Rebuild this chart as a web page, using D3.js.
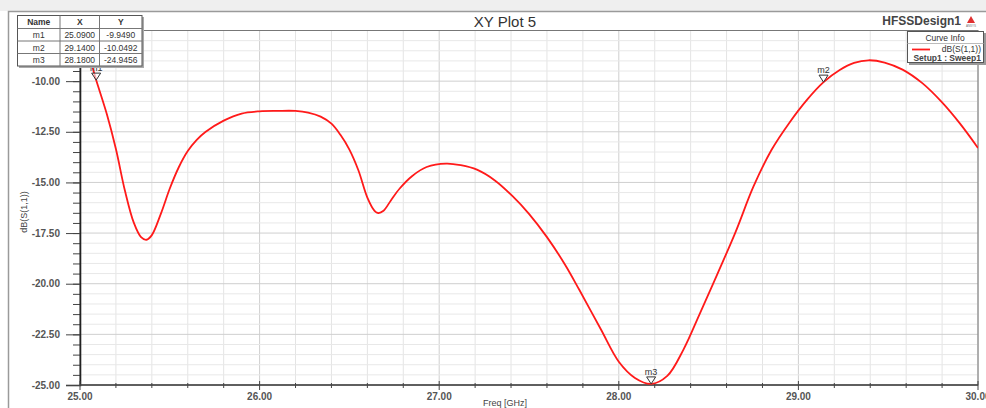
<!DOCTYPE html>
<html>
<head>
<meta charset="utf-8">
<script src="https://cdn.jsdelivr.net/npm/d3@7"></script>
<style>
  body { margin: 0; background: #fff; }
  svg  { display: block; font-family: Arial, "Liberation Sans", sans-serif; }
</style>
</head>
<body>
<svg id="chart" width="986" height="408"></svg>
<script>
// ── Data: dB(S(1,1)) vs frequency ─────────────────────────────────────────────
const FREQ = [25.00, 25.05, 25.09, 25.15, 25.20, 25.25, 25.30, 25.34, 25.37, 25.40,
              25.45, 25.50, 25.55, 25.60, 25.65, 25.70, 25.80, 25.90, 26.00, 26.10,
              26.20, 26.27, 26.34, 26.40, 26.45, 26.50, 26.55, 26.60, 26.64, 26.66,
              26.69, 26.73, 26.78, 26.85, 26.93, 27.04, 27.12, 27.21, 27.31, 27.41,
              27.50, 27.60, 27.70, 27.78, 27.90, 28.00, 28.09, 28.18, 28.27, 28.36,
              28.45, 28.55, 28.65, 28.75, 28.85, 28.95, 29.05, 29.14, 29.23, 29.31,
              29.39, 29.48, 29.58, 29.69, 29.80, 29.90, 30.00];
const S11  = [-7.6, -8.75, -9.949, -11.65, -13.35, -15.40, -17.00, -17.70, -17.83, -17.60,
              -16.55, -15.30, -14.25, -13.45, -12.90, -12.50, -11.95, -11.60, -11.49, -11.47,
              -11.47, -11.55, -11.75, -12.10, -12.65, -13.38, -14.40, -15.75, -16.40, -16.51,
              -16.40, -15.90, -15.30, -14.68, -14.24, -14.07, -14.15, -14.37, -14.90, -15.69,
              -16.55, -17.70, -19.05, -20.30, -22.25, -23.85, -24.65, -24.9456, -24.55, -23.25,
              -21.50, -19.50, -17.45, -15.20, -13.40, -12.05, -10.90, -10.0492, -9.45, -9.10,
              -8.97, -9.08, -9.43, -10.10, -11.05, -12.10, -13.30];

const MARKER_NAMES = ["m1", "m2", "m3"];
const MARKER_X     = [25.09, 29.14, 28.18];
const MARKER_Y     = [-9.9490, -10.0492, -24.9456];

const X_TICKS = [25, 26, 27, 28, 29, 30];
const Y_TICKS = [-10, -12.5, -15, -17.5, -20, -22.5, -25];

const TITLE  = "XY Plot 5";
const DESIGN = "HFSSDesign1";

// ── Layout ────────────────────────────────────────────────────────────────────
const L = 80, R = 978, T = 30.5, B = 385;
const svg = d3.select("#chart");

const x = d3.scaleLinear().domain([25, 30]).range([L, R]);
const y = d3.scaleLinear().domain([-25, -7.5]).range([B, T]);

// Window frame
svg.append("rect").attr("x", 0).attr("y", 0).attr("width", 986).attr("height", 11)
  .attr("fill", "#efefef");
svg.append("path").attr("d", "M8.5,408 V11.5 H986")
  .attr("fill", "none").attr("stroke", "#9a9a9a").attr("stroke-width", 1.5);

// Grid
const gGrid = svg.append("g");
gGrid.selectAll("line.vx").data(x.ticks(25)).join("line")
  .attr("x1", d => x(d)).attr("x2", d => x(d)).attr("y1", T).attr("y2", B)
  .attr("stroke", d => Number.isInteger(+d.toFixed(6)) ? "#cfcfcf" : "#e4e4e4")
  .attr("stroke-width", 1);
gGrid.selectAll("line.hy").data(y.ticks(35)).join("line")
  .attr("x1", L).attr("x2", R).attr("y1", d => y(d)).attr("y2", d => y(d))
  .attr("stroke", d => Math.abs(d / 2.5 - Math.round(d / 2.5)) < 1e-6 ? "#cfcfcf" : "#e8e8e8")
  .attr("stroke-width", 1);

// Plot border
svg.append("rect").attr("x", L).attr("y", T).attr("width", R - L).attr("height", B - T)
  .attr("fill", "none").attr("stroke", "#777").attr("stroke-width", 1);

// Y axis
const yMinor = svg.append("g").attr("transform", `translate(${L},0)`)
  .call(d3.axisLeft(y).tickValues(y.ticks(35)).tickSize(7).tickFormat(""));
yMinor.selectAll("line").attr("stroke", "#444");
yMinor.select(".domain").remove();

const yAx = svg.append("g").attr("transform", `translate(${L},0)`)
  .call(d3.axisLeft(y).tickValues(Y_TICKS).tickSize(14).tickPadding(6)
    .tickFormat(d => d.toFixed(2)));
yAx.select(".domain").attr("stroke", "#222").attr("stroke-width", 1.6);
yAx.selectAll("line").attr("stroke", "#444");
yAx.selectAll("text").attr("font-size", "10px").attr("font-weight", "bold")
  .attr("fill", "#555").attr("font-family", "Arial, 'Liberation Sans', sans-serif");

// X axis
const xAx = svg.append("g");
xAx.append("line").attr("x1", L).attr("x2", R).attr("y1", B).attr("y2", B)
  .attr("stroke", "#444").attr("stroke-width", 1.4);
xAx.selectAll("line.tk").data(x.ticks(25)).join("line")
  .attr("x1", d => x(d)).attr("x2", d => x(d))
  .attr("y1", d => Number.isInteger(+d.toFixed(6)) ? B - 4 : B - 2)
  .attr("y2", d => Number.isInteger(+d.toFixed(6)) ? B + 5 : B + 3)
  .attr("stroke", "#444");
xAx.selectAll("text").data(X_TICKS).join("text")
  .attr("x", d => x(d)).attr("y", B + 15).attr("text-anchor", "middle")
  .attr("font-size", "10px").attr("font-weight", "bold").attr("fill", "#555")
  .text(d => d.toFixed(2));

// Axis titles
svg.append("text").attr("x", 505).attr("y", 406).attr("text-anchor", "middle")
  .attr("font-size", "9px").attr("fill", "#444").text("Freq [GHz]");
svg.append("text").attr("transform", "translate(27,212) rotate(-90)")
  .attr("text-anchor", "middle").attr("font-size", "9px").attr("fill", "#444")
  .text("dB(S(1,1))");

// Curve
svg.append("clipPath").attr("id", "clip").append("rect")
  .attr("x", L).attr("y", T).attr("width", R - L).attr("height", B - T + 2);
const line = d3.line().x((d, i) => x(FREQ[i])).y(d => y(d)).curve(d3.curveCatmullRom.alpha(0.5));
svg.append("path").datum(S11).attr("clip-path", "url(#clip)")
  .attr("d", line).attr("fill", "none").attr("stroke", "#ff1a1a").attr("stroke-width", 1.8);

// Markers
const gM = svg.append("g");
MARKER_NAMES.forEach((name, i) => {
  const px = x(MARKER_X[i]), py = y(MARKER_Y[i]);
  gM.append("path").attr("d", `M${px - 4.5},${py - 7} L${px + 4.5},${py - 7} L${px},${py} Z`)
    .attr("fill", "#fff").attr("fill-opacity", 0.6).attr("stroke", "#333").attr("stroke-width", 1);
  gM.append("text").attr("x", px).attr("y", py - 9).attr("text-anchor", "middle")
    .attr("font-size", "9px").attr("fill", "#333").text(name);
});

// Title and design name
svg.append("text").attr("x", 505).attr("y", 27).attr("text-anchor", "middle")
  .attr("font-size", "15px").attr("fill", "#333").text(TITLE);
svg.append("text").attr("x", 961).attr("y", 25).attr("text-anchor", "end")
  .attr("font-size", "12px").attr("font-weight", "bold").attr("fill", "#444").text(DESIGN);

// Ansys logo
svg.append("path").attr("d", "M971,16 L975,23 L967,23 Z").attr("fill", "#e03030");
svg.append("text").attr("x", 971).attr("y", 27).attr("text-anchor", "middle")
  .attr("font-size", "3px").attr("fill", "#777").text("ANSYS");

// Curve Info legend
const lg = svg.append("g");
lg.append("rect").attr("x", 909).attr("y", 33).attr("width", 77).attr("height", 32).attr("fill", "#999");
lg.append("rect").attr("x", 907.5).attr("y", 31.5).attr("width", 76).attr("height", 31)
  .attr("fill", "#fff").attr("stroke", "#555");
lg.append("text").attr("x", 945).attr("y", 40.5).attr("text-anchor", "middle")
  .attr("font-size", "8.5px").attr("fill", "#333").text("Curve Info");
lg.append("line").attr("x1", 907.5).attr("x2", 983.5).attr("y1", 43.5).attr("y2", 43.5)
  .attr("stroke", "#bbb");
lg.append("line").attr("x1", 912).attr("x2", 930).attr("y1", 49.5).attr("y2", 49.5)
  .attr("stroke", "#ff1a1a").attr("stroke-width", 1.8);
lg.append("text").attr("x", 981).attr("y", 52).attr("text-anchor", "end")
  .attr("font-size", "8.5px").attr("fill", "#333").text("dB(S(1,1))");
lg.append("text").attr("x", 981).attr("y", 61).attr("text-anchor", "end")
  .attr("font-size", "8.5px").attr("font-weight", "bold").attr("fill", "#444").text("Setup1 : Sweep1");

// Marker table
const colX = [17.5, 60, 99.5, 142];
const rowY = [15.5, 28.5, 41, 53.5, 66];
const tb = svg.append("g");
tb.append("rect").attr("x", 19).attr("y", 17).attr("width", 125).attr("height", 51).attr("fill", "#aaa");
tb.append("rect").attr("x", colX[0]).attr("y", rowY[0]).attr("width", colX[3] - colX[0])
  .attr("height", rowY[4] - rowY[0]).attr("fill", "#fff").attr("stroke", "#555");
colX.slice(1, 3).forEach(cx => tb.append("line").attr("x1", cx).attr("x2", cx)
  .attr("y1", rowY[0]).attr("y2", rowY[4]).attr("stroke", "#777"));
rowY.slice(1, 4).forEach(ry => tb.append("line").attr("x1", colX[0]).attr("x2", colX[3])
  .attr("y1", ry).attr("y2", ry).attr("stroke", "#777"));
const rows = [["Name", "X", "Y"]].concat(MARKER_NAMES.map((n, i) =>
  [n, MARKER_X[i].toFixed(4), MARKER_Y[i].toFixed(4)]));
rows.forEach((r, ri) => r.forEach((c, ci) => {
  tb.append("text").attr("x", (colX[ci] + colX[ci + 1]) / 2).attr("y", rowY[ri] + 9.5)
    .attr("text-anchor", "middle").attr("font-size", "8.5px")
    .attr("font-weight", ri === 0 ? "bold" : "normal")
    .attr("fill", "#333").text(c);
}));
</script>
</body>
</html>
